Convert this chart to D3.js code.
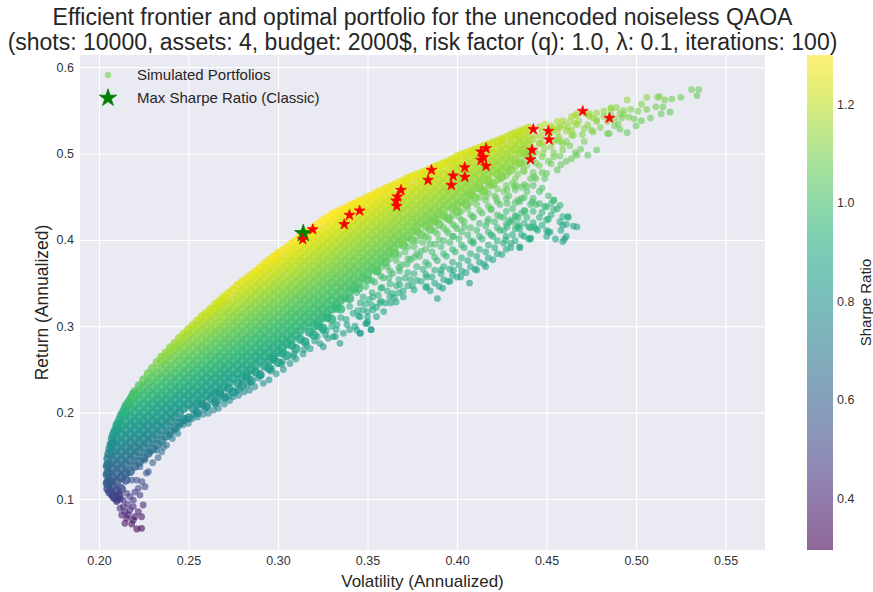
<!DOCTYPE html>
<html><head><meta charset="utf-8">
<script src="https://cdn.jsdelivr.net/npm/d3@7"></script>
<style>
body{margin:0;background:#fff}
svg{display:block}
text{font-family:"Liberation Sans",Arial,Helvetica,sans-serif}
</style>
</head><body>
<svg id="chart" width="873" height="592"></svg>
<script>
// ---------------- DATA ----------------
const titleLines = [
  "Efficient frontier and optimal portfolio for the unencoded noiseless QAOA",
  "(shots: 10000, assets: 4, budget: 2000$, risk factor (q): 1.0, λ: 0.1, iterations: 100)"
];
const xLabel = "Volatility (Annualized)";
const yLabel = "Return (Annualized)";
const colorbarLabel = "Sharpe Ratio";
const legendLabels = ["Simulated Portfolios", "Max Sharpe Ratio (Classic)"];

const volatilityLimits = [0.1894, 0.572];
const returnLimits = [0.041, 0.614];
const xTicks = [0.20, 0.25, 0.30, 0.35, 0.40, 0.45, 0.50, 0.55];
const yTicks = [0.1, 0.2, 0.3, 0.4, 0.5, 0.6];
const colorbarTicks = [0.4, 0.6, 0.8, 1.0, 1.2];

// Densely packed simulated portfolios, read column by column (volatility) ...
const denseVolatility = [0.2050,0.2075,0.2100,0.2125,0.2150,0.2175,0.2200,0.2225,0.2250,0.2275,0.2300,0.2325,0.2350,0.2375,0.2400,0.2425,0.2450,0.2475,0.2500,0.2525,0.2550,0.2575,0.2600,0.2625,0.2650,0.2675,0.2700,0.2725,0.2750,0.2775,0.2800,0.2825,0.2850,0.2875,0.2900,0.2925,0.2950,0.2975,0.3000,0.3025,0.3050,0.3075,0.3100,0.3125,0.3150,0.3175,0.3200,0.3225,0.3250,0.3275,0.3300,0.3325,0.3350,0.3375,0.3400,0.3425,0.3450,0.3475,0.3500,0.3525,0.3550,0.3575,0.3600,0.3625,0.3650,0.3675,0.3700,0.3725,0.3750,0.3775,0.3800,0.3825,0.3850,0.3875,0.3900,0.3925,0.3950,0.3975,0.4000,0.4025,0.4050,0.4075,0.4100,0.4125,0.4150,0.4175,0.4200,0.4225,0.4250,0.4275,0.4300,0.4325,0.4350,0.4375,0.4400];
// ... with the returns of each column in per-mille (‰)
const denseReturnsPermille = [
[112,120,130,140,147],
[105,115,125,135,145,155,165,170],
[100,110,120,130,140,150,160,170,180,185],
[112,125,135,145,155,165,175,185,197],
[122,130,140,150,160,170,180,190,200,207],
[132,145,155,165,175,185,195,205,215],
[138,150,160,170,180,190,200,210,220,224],
[143,155,165,175,185,195,205,215,225,231],
[148,160,170,180,190,200,210,220,230,238],
[153,165,175,185,195,205,215,225,235,245],
[158,170,180,190,200,210,220,230,240,251],
[163,175,185,195,205,215,225,235,245,258],
[168,180,190,200,210,220,230,240,250,260,264],
[173,185,195,205,215,225,235,245,255,265,269],
[178,190,200,210,220,230,240,250,260,270,275],
[183,195,205,215,225,235,245,255,265,275,280],
[188,200,210,220,230,240,250,260,270,280,286],
[192,205,215,225,235,245,255,265,275,285,291],
[194,210,220,230,240,250,260,270,280,290,296],
[205,215,225,235,245,255,265,275,285,295,301],
[200,210,220,230,240,250,260,270,280,290,300,306],
[210,215,225,235,245,255,265,275,285,295,305,311],
[207,220,230,240,250,260,270,280,290,300,310,315],
[216,225,235,245,255,265,275,285,295,305,315,320],
[212,222,230,240,250,260,270,280,290,300,310,320,325],
[221,225,235,245,255,265,275,285,295,305,315,325,329],
[218,230,240,250,260,270,280,290,300,310,320,330,334],
[228,235,245,255,265,275,285,295,305,315,325,338],
[224,240,250,260,270,280,290,300,310,320,330,342],
[234,245,255,265,275,285,295,305,315,325,335,347],
[231,240,250,260,270,280,290,300,310,320,330,340,351],
[241,245,255,265,275,285,295,305,315,325,335,345,355],
[237,250,260,270,280,290,300,310,320,330,340,350,359],
[247,255,265,275,285,295,305,315,325,335,345,355,363],
[244,260,270,280,290,300,310,320,330,340,350,360,367],
[254,265,275,285,295,305,315,325,335,345,355,365,372],
[251,260,270,280,290,300,310,320,330,340,350,360,370,376],
[262,265,275,285,295,305,315,325,335,345,355,365,375,380],
[258,270,280,290,300,310,320,330,340,350,360,370,380,384],
[269,275,285,295,305,315,325,335,345,355,365,375,387],
[266,280,290,300,310,320,330,340,350,360,370,380,391],
[278,285,295,305,315,325,335,345,355,365,375,385,395],
[274,290,300,310,320,330,340,350,360,370,380,390,399],
[285,295,305,315,325,335,345,355,365,375,385,395,403],
[282,300,310,320,330,340,350,360,370,380,390,400,407],
[293,305,315,325,335,345,355,365,375,385,395,405,410],
[290,300,310,320,330,340,350,360,370,380,390,400,410,414],
[301,305,315,325,335,345,355,365,375,385,395,405,418],
[298,310,320,330,340,350,360,370,380,390,400,410,422],
[310,315,325,335,345,355,365,375,385,395,405,415,425],
[308,320,330,340,350,360,370,380,390,400,410,420,429],
[321,325,335,345,355,365,375,385,395,405,415,425,431],
[320,330,340,350,360,370,380,390,400,410,420,430,434],
[333,345,355,365,375,385,395,405,415,425,436],
[332,340,350,360,370,380,390,400,410,420,430,439],
[345,355,365,375,385,395,405,415,425,435,441],
[344,350,360,370,380,390,400,410,420,430,440,444],
[356,365,375,385,395,405,415,425,435,446],
[354,360,370,380,390,400,410,420,430,440,449],
[366,375,385,395,405,415,425,435,445,451],
[364,370,380,390,400,410,420,430,440,450,454],
[376,385,395,405,415,425,435,445,456],
[374,380,390,400,410,420,430,440,450,459],
[386,395,405,415,425,435,445,455,461],
[384,390,400,410,420,430,440,450,463],
[396,405,415,425,435,445,455,466],
[394,400,410,420,430,440,450,460,468],
[404,415,425,435,445,455,465,471],
[400,410,420,430,440,450,460,473],
[410,415,425,435,445,455,465,475],
[406,420,430,440,450,460,470,477],
[416,425,435,445,455,465,475,479],
[412,420,430,440,450,460,470,481],
[422,425,435,445,455,465,475,484],
[418,430,440,450,460,470,480,486],
[428,435,445,455,465,475,488],
[425,440,450,460,470,480,490],
[436,445,455,465,475,485,493],
[433,440,450,460,470,480,490,496],
[444,455,465,475,485,498],
[441,450,460,470,480,490,500],
[452,455,465,475,485,495,502],
[449,460,470,480,490,500,504],
[460,465,475,485,495,506],
[457,470,480,490,500,508],
[468,475,485,495,505,510],
[465,480,490,500,512],
[476,485,495,505,514],
[473,480,490,500,510,516],
[484,495,505,518],
[481,490,500,510,521],
[492,505,515,523],
[489,500,510,520,525],
[500,505,515,527],
[499,510,520,529]
];
// portfolios along the steep left edge of the frontier, near minimum variance [volatility, return]
const leftEdgePortfolios = [
[0.2047,0.118],[0.2046,0.128],[0.2047,0.138],[0.2055,0.152],[0.2061,0.158],[0.2068,0.163],[0.2082,0.175],[0.2090,0.179],
[0.2108,0.188],[0.2117,0.192],[0.2135,0.200],[0.2142,0.203],[0.2160,0.210],[0.2168,0.212],[0.2185,0.218],[0.2192,0.221],
[0.2060,0.108],[0.2065,0.120],[0.2085,0.102],[0.2112,0.104]
];

// Scattered simulated portfolios [volatility, return]: low-Sharpe tail near the minimum variance point
const tailPortfolios = [
[0.2136,0.0911],[0.2145,0.0853],[0.2127,0.0815],[0.2173,0.0873],[0.2192,0.0911],[0.2145,0.0719],[0.2183,0.0711],[0.2211,0.0653],[0.2238,0.0661],[0.2247,0.0931],
[0.2238,0.0795],[0.2229,0.1046],[0.2257,0.1142],[0.2276,0.1316],[0.2192,0.0988],[0.2220,0.1124],[0.2173,0.1027],[0.2136,0.0988],[0.2108,0.1046],[0.2155,0.1066],
[0.2183,0.1220],[0.2211,0.1220],[0.2229,0.1374],[0.2257,0.1451],[0.2285,0.1547],[0.2322,0.1567],[0.2350,0.1547],[0.2397,0.1741],[0.2425,0.1799],[0.2378,0.1625],
[0.2099,0.0969],[0.2117,0.0892],[0.2164,0.0815],[0.2201,0.0795],[0.2220,0.0853],[0.2155,0.0777],[0.2192,0.0757],[0.2120,0.1000],[0.2160,0.0940],[0.2200,0.1080],
[0.2240,0.1200],[0.2265,0.1300],[0.2300,0.1420],[0.2330,0.1480],[0.2360,0.1600],[0.2410,0.1700],[0.2440,0.1760]
];
// ragged lower edge of the cloud
const lowerEdgePortfolios = [
[0.2443,0.1835],[0.2470,0.1860],[0.2499,0.1876],[0.2520,0.1930],[0.2550,0.1950],[0.2580,0.1980],[0.2611,0.1992],[0.2640,0.2030],[0.2667,0.2050],[0.2700,0.2100],
[0.2730,0.2140],[0.2750,0.2184],[0.2780,0.2200],[0.2810,0.2240],[0.2840,0.2260],[0.2870,0.2300],[0.2918,0.2339],[0.2950,0.2380],[0.2990,0.2450],[0.3030,0.2500],
[0.3067,0.2570],[0.3100,0.2620],[0.3140,0.2680],[0.3180,0.2740],[0.3235,0.2800],[0.3253,0.2763],[0.3280,0.2860],[0.3320,0.2880],[0.3346,0.2802],[0.3365,0.2918],
[0.3400,0.2960],[0.3430,0.3000],[0.3458,0.2918],[0.3500,0.3050],[0.3520,0.2960],[0.2460,0.1900],[0.2530,0.1980],[0.2590,0.2040],[0.2650,0.2100],[0.2710,0.2170],
[0.2770,0.2250],[0.2830,0.2320],[0.2890,0.2400],[0.2960,0.2480],[0.3020,0.2560],[0.3090,0.2680],[0.3160,0.2780],[0.3220,0.2880],[0.3270,0.2950],[0.3330,0.3020],
[0.3380,0.3080],[0.3420,0.3150],[0.3458,0.3110],[0.3496,0.3034],[0.3440,0.2956],[0.3309,0.2879],[0.3420,0.3420],[0.3350,0.3100],[0.3400,0.3230],[0.3300,0.3000],
[0.3250,0.2950],[0.2485,0.1925],[0.2545,0.2005],[0.2605,0.2065],[0.2665,0.2125],[0.2725,0.2195],[0.2785,0.2270],[0.2845,0.2345],[0.2905,0.2430],[0.2965,0.2510],
[0.3025,0.2590],[0.3085,0.2650],[0.3145,0.2730],[0.3205,0.2830],[0.3265,0.2900],[0.3325,0.2960],[0.3385,0.3020],[0.3445,0.3180],[0.3490,0.3260],[0.3530,0.3340],
[0.3580,0.3450],[0.3620,0.3560],[0.3680,0.3640],[0.3720,0.3720],[0.3760,0.3800],[0.3800,0.3870],[0.3850,0.3950],[0.3900,0.4000],[0.3950,0.4080],[0.4000,0.4130]
];
// looser middle / right part of the cloud
const looseMidPortfolios = [
[0.345,0.312],[0.346,0.327],[0.344,0.339],[0.350,0.317],[0.351,0.331],[0.349,0.346],[0.355,0.322],[0.356,0.336],[0.354,0.351],[0.356,0.363],
[0.360,0.327],[0.361,0.341],[0.359,0.356],[0.361,0.369],[0.365,0.333],[0.366,0.347],[0.364,0.361],[0.366,0.376],[0.370,0.341],[0.371,0.356],
[0.369,0.371],[0.371,0.386],[0.375,0.347],[0.376,0.361],[0.374,0.377],[0.376,0.392],[0.380,0.352],[0.381,0.366],[0.379,0.381],[0.381,0.397],
[0.385,0.341],[0.386,0.357],[0.384,0.371],[0.386,0.386],[0.384,0.402],[0.390,0.346],[0.391,0.361],[0.389,0.376],[0.391,0.392],[0.389,0.407],
[0.395,0.352],[0.396,0.366],[0.394,0.381],[0.396,0.397],[0.394,0.411],[0.396,0.422],[0.400,0.357],[0.401,0.371],[0.399,0.386],[0.401,0.401],
[0.399,0.416],[0.401,0.427],[0.405,0.362],[0.406,0.376],[0.404,0.391],[0.406,0.406],[0.404,0.421],[0.406,0.436],[0.410,0.366],[0.411,0.381],
[0.409,0.396],[0.411,0.411],[0.409,0.426],[0.411,0.441],[0.415,0.372],[0.416,0.386],[0.414,0.401],[0.416,0.416],[0.414,0.431],[0.416,0.446],
[0.414,0.456],[0.420,0.377],[0.421,0.391],[0.419,0.406],[0.421,0.421],[0.419,0.436],[0.421,0.451],[0.419,0.462],[0.425,0.383],[0.426,0.396],
[0.424,0.411],[0.426,0.426],[0.424,0.441],[0.426,0.456],[0.424,0.470],[0.430,0.391],[0.431,0.406],[0.429,0.421],[0.431,0.436],[0.429,0.451],
[0.431,0.466],[0.429,0.478],[0.435,0.392],[0.436,0.406],[0.434,0.417],[0.436,0.431],[0.434,0.446],[0.436,0.461],[0.434,0.476],[0.436,0.488],
[0.440,0.401],[0.441,0.414],[0.439,0.426],[0.441,0.441],[0.439,0.456],[0.441,0.471],[0.439,0.486],[0.441,0.497],[0.445,0.411],[0.446,0.426],
[0.444,0.441],[0.446,0.456],[0.444,0.471],[0.446,0.486],[0.444,0.501],[0.446,0.511],[0.444,0.521],[0.446,0.531],[0.450,0.411],[0.451,0.424],
[0.449,0.439],[0.451,0.451],[0.449,0.471],[0.451,0.491],[0.449,0.506],[0.451,0.521],[0.449,0.534],[0.455,0.401],[0.456,0.436],[0.454,0.446],
[0.456,0.481],[0.454,0.501],[0.456,0.516],[0.454,0.528],[0.456,0.537],[0.460,0.401],[0.461,0.418],[0.459,0.427],[0.461,0.491],[0.459,0.511],
[0.461,0.526],[0.459,0.538],[0.465,0.416],[0.466,0.501],[0.464,0.521],[0.466,0.535],[0.464,0.543],
[0.346,0.292],[0.352,0.296],[0.349,0.303],[0.355,0.311],[0.359,0.317],[0.363,0.327],[0.366,0.328],[0.370,0.334],[0.376,0.342],[0.383,0.346],
[0.389,0.332],[0.392,0.344],[0.396,0.352],[0.402,0.357],[0.407,0.350],[0.411,0.365],[0.416,0.369],[0.398,0.365],[0.391,0.365],[0.383,0.357],
[0.374,0.354],[0.368,0.348],[0.364,0.338],[0.357,0.327],[0.353,0.319],[0.350,0.311],
[0.3475,0.319],[0.3475,0.334],[0.3525,0.324],[0.3525,0.339],[0.3525,0.353],[0.3575,0.329],[0.3575,0.344],[0.3575,0.358],[0.3575,0.368],
[0.3625,0.334],[0.3625,0.349],[0.3625,0.364],[0.3625,0.378],[0.3675,0.339],[0.3675,0.354],[0.3675,0.368],[0.3675,0.383],
[0.3725,0.347],[0.3725,0.362],[0.3725,0.378],[0.3725,0.392],[0.3775,0.353],[0.3775,0.369],[0.3775,0.384],[0.3775,0.399],
[0.3825,0.345],[0.3825,0.360],[0.3825,0.374],[0.3825,0.389],[0.3825,0.404],[0.3875,0.350],[0.3875,0.365],[0.3875,0.380],[0.3875,0.395],[0.3875,0.410],
[0.3925,0.354],[0.3925,0.369],[0.3925,0.384],[0.3925,0.399],[0.3925,0.414],[0.3975,0.359],[0.3975,0.374],[0.3975,0.389],[0.3975,0.404],[0.3975,0.418],[0.3975,0.428],
[0.4025,0.364],[0.4025,0.379],[0.4025,0.394],[0.4025,0.409],[0.4025,0.423],[0.4025,0.433],[0.4075,0.369],[0.4075,0.384],[0.4075,0.399],[0.4075,0.414],[0.4075,0.429],[0.4075,0.443],
[0.4125,0.374],[0.4125,0.389],[0.4125,0.404],[0.4125,0.419],[0.4125,0.434],[0.4125,0.449],[0.4175,0.379],[0.4175,0.394],[0.4175,0.409],[0.4175,0.424],[0.4175,0.439],[0.4175,0.454],[0.4175,0.463],
[0.4225,0.384],[0.4225,0.399],[0.4225,0.414],[0.4225,0.429],[0.4225,0.444],[0.4225,0.459],[0.4225,0.469],[0.4275,0.389],[0.4275,0.404],[0.4275,0.418],[0.4275,0.433],[0.4275,0.448],[0.4275,0.463],[0.4275,0.474],
[0.4325,0.399],[0.4325,0.413],[0.4325,0.428],[0.4325,0.443],[0.4325,0.458],[0.4325,0.471],[0.4325,0.484],[0.4375,0.404],[0.4375,0.419],[0.4375,0.434],[0.4375,0.449],[0.4375,0.464],[0.4375,0.479],[0.4375,0.491],
[0.4425,0.420],[0.4425,0.433],[0.4425,0.448],[0.4425,0.463],[0.4425,0.478],[0.4425,0.493],[0.4425,0.505],[0.4425,0.516],[0.4475,0.417],[0.4475,0.432],[0.4475,0.460],[0.4475,0.478],[0.4475,0.496],[0.4475,0.512],[0.4475,0.526],
[0.4525,0.429],[0.4525,0.442],[0.4525,0.488],[0.4525,0.508],[0.4525,0.524],[0.4525,0.532],[0.4575,0.421],[0.4575,0.440],[0.4575,0.497],[0.4575,0.514],[0.4575,0.530]
];
// upper-right part of the cloud and the separate lower branch
const rightPortfolios = [
[0.467,0.546],[0.474,0.546],[0.486,0.551],[0.478,0.539],[0.484,0.523],[0.476,0.525],[0.471,0.514],[0.478,0.504],[0.473,0.498],[0.467,0.498],
[0.464,0.494],[0.459,0.504],[0.454,0.496],[0.458,0.487],[0.450,0.477],[0.443,0.473],[0.461,0.514],[0.465,0.521],[0.456,0.525],[0.454,0.514],
[0.446,0.512],[0.448,0.500],[0.444,0.489],[0.437,0.481],[0.433,0.463],[0.439,0.462],[0.428,0.458],[0.422,0.448],[0.416,0.450],[0.428,0.442],
[0.419,0.435],[0.424,0.427],[0.417,0.421],[0.430,0.423],[0.433,0.427],[0.435,0.413],[0.426,0.411],[0.420,0.404],[0.427,0.400],[0.409,0.398],
[0.404,0.415],[0.398,0.404],[0.409,0.427],[0.435,0.444],[0.446,0.442],[0.450,0.438],[0.454,0.446],[0.462,0.427],[0.467,0.415],[0.459,0.417],
[0.450,0.423],[0.443,0.415],[0.451,0.409],[0.459,0.398],[0.461,0.404],[0.441,0.402],[0.434,0.415],[0.428,0.415],[0.462,0.426],[0.458,0.411],
[0.454,0.435],[0.450,0.404],[0.452,0.409],[0.442,0.444],[0.444,0.413],[0.441,0.401],[0.435,0.391],[0.430,0.396],[0.436,0.448],[0.432,0.462],
[0.438,0.433],[0.440,0.415],[0.434,0.425],[0.431,0.421],
[0.531,0.574],[0.535,0.574],[0.534,0.567],[0.525,0.565],[0.520,0.563],[0.516,0.562],[0.513,0.566],[0.512,0.565],[0.506,0.565],[0.503,0.557],
[0.511,0.554],[0.515,0.554],[0.506,0.551],[0.501,0.549],[0.519,0.548],[0.514,0.546],[0.508,0.541],[0.503,0.538],[0.500,0.532],[0.495,0.524],
[0.491,0.528],[0.488,0.532],[0.495,0.562],[0.493,0.550],[0.491,0.546],[0.496,0.542],[0.492,0.541],[0.486,0.553],[0.489,0.553],[0.486,0.544],
[0.482,0.543],[0.478,0.547],[0.478,0.537],[0.474,0.543],[0.472,0.546],[0.466,0.544],[0.467,0.533],[0.463,0.537],[0.460,0.533],[0.485,0.523],
[0.475,0.527],[0.471,0.529],[0.468,0.538],[0.470,0.522],[0.473,0.533],[0.476,0.541],[0.480,0.530],[0.482,0.549],[0.484,0.537],[0.488,0.540],
[0.490,0.534],[0.493,0.545],[0.497,0.551],[0.499,0.540],[0.462,0.530],[0.464,0.527],[0.457,0.531],[0.469,0.505],[0.463,0.509],[0.457,0.519],
[0.453,0.530],[0.447,0.519]
];

// QAOA results (red stars)
const qaoaVolatility = [0.3194,0.3138,0.3370,0.3399,0.3456,0.3663,0.3659,0.3668,0.3687,0.3838,0.3857,0.3968,0.3978,0.4043,0.4043,0.4134,0.4162,0.4147,0.4134,0.4162,0.4426,0.4419,0.4410,0.4510,0.4514,0.4702,0.4851];
const qaoaReturn     = [0.4120,0.4006,0.4180,0.4287,0.4337,0.4390,0.4453,0.4500,0.4576,0.4692,0.4808,0.4634,0.4742,0.4727,0.4839,0.5020,0.5059,0.4955,0.4924,0.4854,0.5280,0.5040,0.4930,0.5260,0.5160,0.5490,0.5410];
// classic max Sharpe portfolio (green star)
const maxSharpeVolatility = [0.3141];
const maxSharpeReturn = [0.4075];

// ---------------- CHART ----------------
const svg = d3.select("#chart");
const plot = {left: 80, right: 765, top: 55, bottom: 550};
const x = d3.scaleLinear().domain(volatilityLimits).range([plot.left, plot.right]);
const y = d3.scaleLinear().domain(returnLimits).range([plot.bottom, plot.top]);

const densePortfolios = [];
denseVolatility.forEach((v, i) => denseReturnsPermille[i].forEach(r => densePortfolios.push({vol: v, ret: r / 1000})));
leftEdgePortfolios.forEach(([v, r]) => densePortfolios.push({vol: v, ret: r}));
const sparsePortfolios = [];
[tailPortfolios, lowerEdgePortfolios, looseMidPortfolios, rightPortfolios].forEach(arr =>
  arr.forEach(([v, r]) => sparsePortfolios.push({vol: v, ret: r})));
const allPortfolios = densePortfolios.concat(sparsePortfolios);
allPortfolios.forEach(p => p.sharpe = p.ret / p.vol);

const color = d3.scaleSequential(d3.interpolateViridis).domain(d3.extent(allPortfolios, d => d.sharpe));
const pointAlpha = 0.6;

// background + grid
svg.append("rect").attr("x", plot.left).attr("y", plot.top)
  .attr("width", plot.right - plot.left).attr("height", plot.bottom - plot.top).attr("fill", "#eaeaf2");

const xAxis = svg.append("g").attr("transform", `translate(0,${plot.bottom})`)
  .call(d3.axisBottom(x).tickValues(xTicks).tickFormat(d3.format(".2f")).tickSize(-(plot.bottom - plot.top)).tickPadding(6));
const yAxis = svg.append("g").attr("transform", `translate(${plot.left},0)`)
  .call(d3.axisLeft(y).tickValues(yTicks).tickFormat(d3.format(".1f")).tickSize(-(plot.right - plot.left)).tickPadding(6));
[xAxis, yAxis].forEach(g => {
  g.select(".domain").remove();
  g.selectAll(".tick line").attr("stroke", "#ffffff").attr("stroke-width", 1.1);
  g.selectAll(".tick text").attr("fill", "#333333").style("font-size", "12.5px")
    .style("font-family", '"Liberation Sans",Arial,sans-serif');
});

// scatter
svg.append("defs").append("clipPath").attr("id", "plotclip")
  .append("rect").attr("x", plot.left).attr("y", plot.top)
  .attr("width", plot.right - plot.left).attr("height", plot.bottom - plot.top);
const gPts = svg.append("g").attr("clip-path", "url(#plotclip)");
// tightly overlapping markers in the dense band
gPts.append("g").selectAll("circle").data(densePortfolios).join("circle")
  .attr("cx", d => x(d.vol)).attr("cy", d => y(d.ret)).attr("r", 4.6)
  .attr("fill", d => color(d.sharpe)).attr("fill-opacity", 0.8);
gPts.append("g").selectAll("circle").data(sparsePortfolios).join("circle")
  .attr("cx", d => x(d.vol)).attr("cy", d => y(d.ret)).attr("r", 3.4)
  .attr("fill", d => color(d.sharpe)).attr("fill-opacity", pointAlpha);

// stars
const greenStar = d3.symbol(d3.symbolStar).size(95)();
const redStar = d3.symbol(d3.symbolStar).size(36)();
svg.append("g").selectAll("path").data(maxSharpeVolatility.map((v, i) => ({vol: v, ret: maxSharpeReturn[i]})))
  .join("path").attr("d", greenStar).attr("transform", d => `translate(${x(d.vol)},${y(d.ret)})`)
  .attr("fill", "#008000").attr("stroke", "#008000").attr("stroke-width", 0.8);
svg.append("g").selectAll("path").data(qaoaVolatility.map((v, i) => ({vol: v, ret: qaoaReturn[i]})))
  .join("path").attr("d", redStar).attr("transform", d => `translate(${x(d.vol)},${y(d.ret)})`)
  .attr("fill", "#ff0000").attr("stroke", "#ff0000").attr("stroke-width", 0.8);

// legend
const leg = svg.append("g");
leg.append("circle").attr("cx", 108).attr("cy", 75).attr("r", 3.2)
  .attr("fill", d3.interpolateViridis(0.8)).attr("fill-opacity", pointAlpha);
leg.append("path").attr("d", greenStar).attr("transform", "translate(108,98)")
  .attr("fill", "#008000").attr("stroke", "#008000").attr("stroke-width", 0.8);
leg.selectAll("text").data(legendLabels).join("text")
  .attr("x", 137).attr("y", (d, i) => 75 + i * 23).attr("dy", "0.35em")
  .attr("fill", "#262626").style("font-size", "15px").text(d => d);

// axis labels
svg.append("text").attr("x", (plot.left + plot.right) / 2).attr("y", 587)
  .attr("text-anchor", "middle").attr("fill", "#262626").style("font-size", "17px").text(xLabel);
svg.append("text").attr("transform", `translate(48,${(plot.top + plot.bottom) / 2}) rotate(-90)`)
  .attr("text-anchor", "middle").attr("fill", "#262626").style("font-size", "17.5px").text(yLabel);

// title
svg.append("g").selectAll("text").data(titleLines).join("text")
  .attr("x", (plot.left + plot.right) / 2).attr("y", (d, i) => 25 + i * 25)
  .attr("text-anchor", "middle").attr("fill", "#262626").style("font-size", "23px").text(d => d);

// colorbar
const cb = {x: 807, w: 26, top: 55, bottom: 550};
const cbScale = d3.scaleLinear().domain(color.domain()).range([cb.bottom, cb.top]);
const grad = svg.select("defs").append("linearGradient").attr("id", "cbgrad")
  .attr("x1", 0).attr("y1", 1).attr("x2", 0).attr("y2", 0);
d3.range(0, 1.0001, 0.05).forEach(t => grad.append("stop")
  .attr("offset", t).attr("stop-color", d3.interpolateViridis(t)).attr("stop-opacity", pointAlpha));
svg.append("rect").attr("x", cb.x).attr("y", cb.top).attr("width", cb.w).attr("height", cb.bottom - cb.top)
  .attr("fill", "url(#cbgrad)");
svg.append("g").selectAll("text").data(colorbarTicks).join("text")
  .attr("x", cb.x + cb.w + 4).attr("y", d => cbScale(d)).attr("dy", "0.35em")
  .attr("fill", "#333333").style("font-size", "12.5px").text(d => d3.format(".1f")(d));
svg.append("text").attr("transform", `translate(871,${(cb.top + cb.bottom) / 2}) rotate(-90)`)
  .attr("text-anchor", "middle").attr("fill", "#262626").style("font-size", "15px").text(colorbarLabel);
</script>
</body></html>
